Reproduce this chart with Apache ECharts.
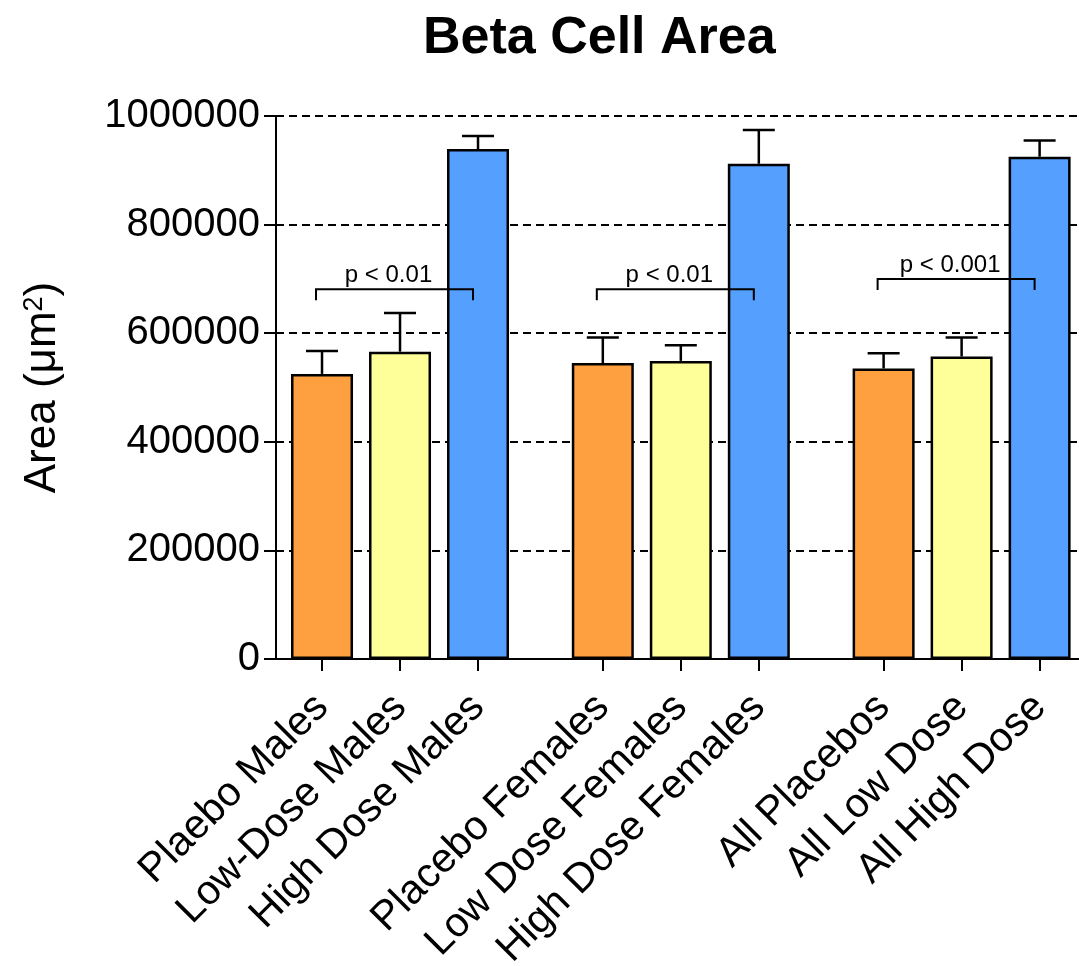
<!DOCTYPE html>
<html>
<head>
<meta charset="utf-8">
<script src="https://cdn.jsdelivr.net/npm/echarts@6/dist/echarts.min.js"></script>
<style>
  html, body { margin: 0; padding: 0; background: #fff; }
  #chart { width: 1079px; height: 966px; }
</style>
</head>
<body>
<div id="chart"></div>
<script>
// values
const categories = ["Plaebo Males", "Low-Dose Males", "High Dose Males",
  "Placebo Females", "Low Dose Females", "High Dose Females",
  "All Placebos", "All Low Dose", "All High Dose"];
const means = [525000, 566000, 939000, 545000, 549000, 912000, 535000, 557000, 925000];
const errors = [42000, 71000, 24000, 47000, 29000, 62000, 28000, 35000, 30000];

const bracketFrom = [0, 3, 6];
const bracketTo = [2, 5, 8];
const bracketLevel = [681000, 681000, 700000];
const bracketLabels = ["p < 0.01", "p < 0.01", "p < 0.001"];

const FONT = "Liberation Sans";
const barColors = ["#FFA040", "#FFFF99", "#559FFF"];

// three bars per group, groups separated by a wider gap
const pos = categories.map((_, i) => Math.floor(i / 3) * 3.6 + (i % 3));
const nameAt = v => {
  const i = pos.findIndex(p => Math.abs(p - v) < 0.01);
  return i < 0 ? "" : categories[i];
};

const chart = echarts.init(document.getElementById("chart"));

const option = {
  animation: false,
  title: {
    text: "Beta Cell Area",
    left: 418,
    top: 8,
    textStyle: { fontFamily: FONT, fontSize: 52, fontWeight: "bold", color: "#000" },
  },
  grid: { left: 276, right: 0, top: 116, bottom: 307, outerBoundsMode: "none", containLabel: false },
  xAxis: {
    type: "value",
    min: -0.59,
    max: 9.705,
    splitLine: { show: false },
    axisLine: { lineStyle: { color: "#000", width: 2 } },
    axisTick: { customValues: pos, length: 12, lineStyle: { color: "#000", width: 2 } },
    axisLabel: {
      customValues: pos,
      rotate: 45,
      margin: 42,
      formatter: nameAt,
      fontFamily: FONT,
      fontSize: 41,
      color: "#000",
    },
  },
  yAxis: {
    type: "value",
    min: 0,
    max: 1000000,
    interval: 200000,
    name: "Area (μm{sup|2})",
    nameLocation: "middle",
    nameRotate: 90,
    nameGap: 211,
    nameTextStyle: {
      fontFamily: FONT,
      fontSize: 44,
      color: "#000",
      rich: { sup: { fontFamily: FONT, fontSize: 27, color: "#000", verticalAlign: "top" } },
    },
    axisLine: { show: true, onZero: false, lineStyle: { color: "#000", width: 2 } },
    axisTick: { show: true, length: 12, lineStyle: { color: "#000", width: 2 } },
    axisLabel: { fontFamily: FONT, fontSize: 40, color: "#000", margin: 16, formatter: v => String(v) },
    splitLine: { lineStyle: { type: [8, 5], color: "#000", width: 2 } },
  },
  series: [
    {
      type: "bar",
      barWidth: 62,
      data: pos.map((p, i) => ({ value: [p, means[i]], itemStyle: { color: barColors[i % 3] } })),
      itemStyle: { borderColor: "#000", borderWidth: 2.5 },
      z: 3,
    },
    {
      type: "custom",
      data: pos.map((p, i) => [p, means[i], errors[i]]),
      z: 4,
      renderItem: (params, api) => {
        const base = api.coord([api.value(0), api.value(1)]);
        const top = api.coord([api.value(0), api.value(1) + api.value(2)]);
        const st = { stroke: "#000", lineWidth: 2.5 };
        return {
          type: "group",
          children: [
            { type: "line", shape: { x1: base[0], y1: base[1], x2: top[0], y2: top[1] }, style: st },
            { type: "line", shape: { x1: top[0] - 16, y1: top[1], x2: top[0] + 16, y2: top[1] }, style: st },
          ],
        };
      },
    },
    {
      type: "custom",
      data: bracketFrom.map((f, i) => [pos[f], pos[bracketTo[i]], bracketLevel[i]]),
      z: 5,
      renderItem: (params, api) => {
        const a = api.coord([api.value(0), api.value(2)]);
        const b = api.coord([api.value(1), api.value(2)]);
        const x1 = a[0] - 6, x2 = b[0] - 5, y = a[1];
        return {
          type: "group",
          children: [
            {
              type: "polyline",
              shape: { points: [[x1, y + 11], [x1, y], [x2, y], [x2, y + 11]] },
              style: { stroke: "#000", lineWidth: 2, fill: null },
            },
            {
              type: "text",
              style: {
                text: bracketLabels[params.dataIndex],
                x: (x1 + x2) / 2 - 6,
                y: y - 2,
                align: "center",
                verticalAlign: "bottom",
                fontFamily: FONT,
                fontSize: 24,
                fill: "#000",
              },
            },
          ],
        };
      },
    },
  ],
};

chart.setOption(option);
</script>
</body>
</html>
